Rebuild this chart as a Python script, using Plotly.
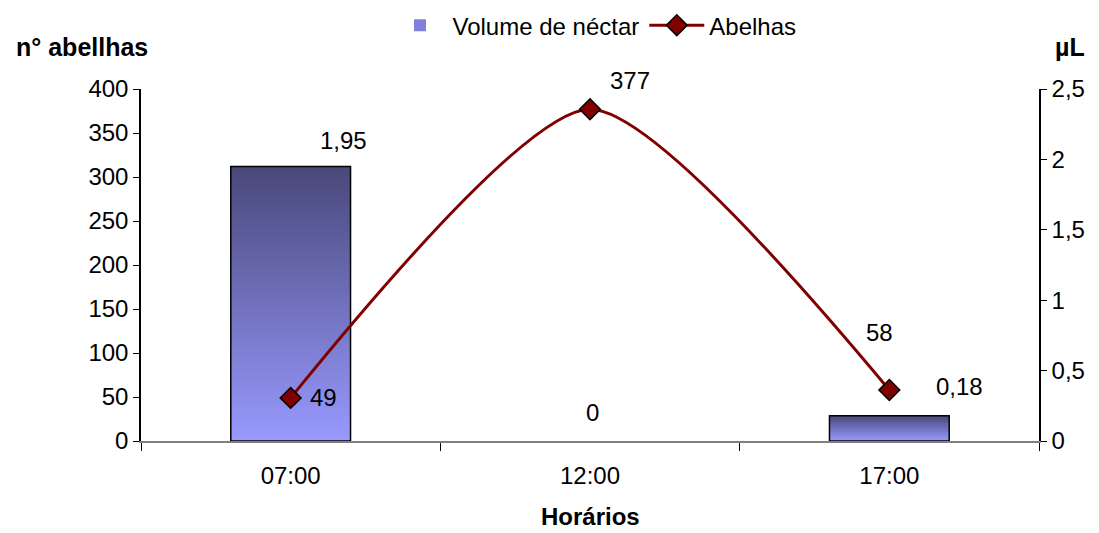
import plotly.graph_objects as go

# ---- data ----
horarios = ["07:00", "12:00", "17:00"]
nectar_ul = [1.95, 0, 0.18]      # Volume de néctar (µL, right axis)
abelhas = [49, 377, 58]          # nº abelhas (left axis)
left_ticks = [0, 50, 100, 150, 200, 250, 300, 350, 400]
right_ticks = [0, 0.5, 1, 1.5, 2, 2.5]

# ---- style ----
FONT = "Liberation Sans, Arial, sans-serif"
FS = 24
TFS = 25
BAR_W = 0.4
line_lbl_shift = [(33, 0), (40, 29), (-10, 57)]
bar_lbl_shift = [(53, 26), (2, 29), (70, 29)]

def fmt(v):
    return f"{v:g}".replace(".", ",")

xi = list(range(len(horarios)))

fig = go.Figure()

# bar trace (legend + base)
fig.add_trace(go.Bar(
    x=xi, y=nectar_ul, width=BAR_W, name="Volume de néctar",
    marker=dict(color="#8080dd", line=dict(color="black", width=0)),
    yaxis="y", hoverinfo="skip",
))

# gradient overlays for each bar
for i, v in zip(xi, nectar_ul):
    if v > 0:
        fig.add_trace(go.Scatter(
            x=[i - BAR_W / 2, i + BAR_W / 2, i + BAR_W / 2, i - BAR_W / 2, i - BAR_W / 2],
            y=[0, 0, v, v, 0],
            mode="lines", fill="toself",
            fillgradient=dict(type="vertical",
                              colorscale=[[0, "#9999ff"], [1, "#48487a"]]),
            line=dict(color="black", width=1.5),
            showlegend=False, hoverinfo="skip", yaxis="y",
        ))

# line trace
fig.add_trace(go.Scatter(
    x=xi, y=abelhas, name="Abelhas", yaxis="y2",
    mode="lines+markers",
    line=dict(color="#800000", width=3, shape="spline", smoothing=0.65),
    marker=dict(symbol="diamond", size=16, color="#800000",
                line=dict(color="black", width=1.5)),
))

annotations = []
for i, v, (dx, dy) in zip(xi, abelhas, line_lbl_shift):
    annotations.append(dict(x=i, y=v, xref="x", yref="y2", text=str(v),
                            showarrow=False, xshift=dx, yshift=dy,
                            font=dict(family=FONT, size=FS, color="black")))
for i, v, (dx, dy) in zip(xi, nectar_ul, bar_lbl_shift):
    annotations.append(dict(x=i, y=v, xref="x", yref="y", text=fmt(v),
                            showarrow=False, xshift=dx, yshift=dy,
                            font=dict(family=FONT, size=FS, color="black")))

annotations += [
    dict(text="<b>n° abellhas</b>", xref="paper", yref="paper", x=-0.066, y=1.12,
         xanchor="center", yanchor="middle", showarrow=False,
         font=dict(family=FONT, size=TFS, color="black")),
    dict(text="<b>µL</b>", xref="paper", yref="paper", x=1.034, y=1.12,
         xanchor="center", yanchor="middle", showarrow=False,
         font=dict(family=FONT, size=TFS, color="black")),
    dict(text="<b>Horários</b>", xref="paper", yref="paper", x=0.5, y=-0.215,
         xanchor="center", yanchor="middle", showarrow=False,
         font=dict(family=FONT, size=24, color="black")),
]

fig.update_layout(
    width=1091, height=525,
    margin=dict(l=133, r=60, t=81, b=92, autoexpand=False),
    paper_bgcolor="white", plot_bgcolor="white",
    separators=",.",
    font=dict(family=FONT, size=FS, color="black"),
    showlegend=True,
    legend=dict(orientation="h", x=0.505, xanchor="center", y=1.18, yanchor="middle",
                font=dict(family=FONT, size=FS, color="black"),
                bgcolor="rgba(0,0,0,0)", itemwidth=55),
    xaxis=dict(
        range=[-0.5, 2.5], tickvals=xi, ticktext=horarios, ticks="",
        showgrid=False, zeroline=False, showline=True, linecolor="#808080",
        linewidth=2, ticklabelstandoff=12,
        minor=dict(tick0=-0.5, dtick=1, ticks="outside", ticklen=8,
                   tickcolor="black", showgrid=False),
        tickfont=dict(family=FONT, size=FS, color="black"),
    ),
    yaxis=dict(
        side="right", range=[0, 2.5], tickvals=right_ticks,
        ticktext=[fmt(t) for t in right_ticks],
        showgrid=False, zeroline=False, showline=True, linecolor="black",
        linewidth=1.5, ticks="outside", ticklen=6, tickcolor="black",
        tickfont=dict(family=FONT, size=FS, color="black"),
    ),
    yaxis2=dict(
        overlaying="y", side="left", range=[0, 400], tickvals=left_ticks,
        showgrid=False, zeroline=False, showline=True, linecolor="black",
        linewidth=1.5, ticks="outside", ticklen=6, tickcolor="black",
        tickfont=dict(family=FONT, size=FS, color="black"),
    ),
    annotations=annotations,
    bargap=0,
)

fig.write_html("out.html")
